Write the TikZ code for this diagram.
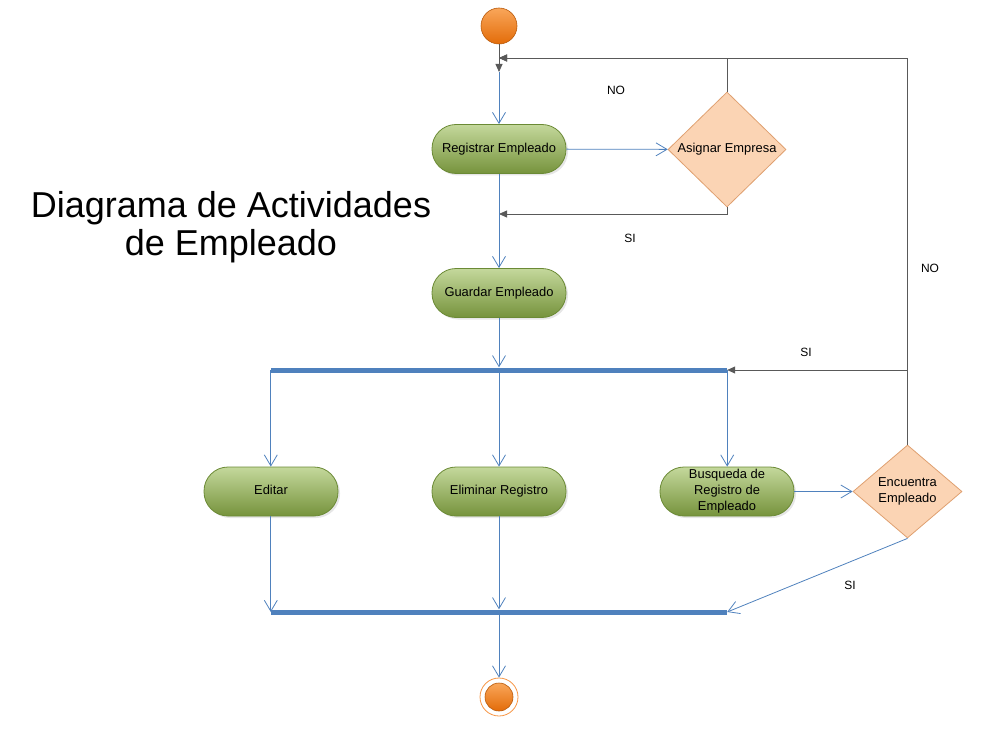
\documentclass[tikz,border=0pt]{standalone}
\usepackage{fontspec}
\setmainfont{Liberation Sans}
\usetikzlibrary{arrows.meta,shapes.geometric,shadows}
\definecolor{flowblue}{HTML}{4F81BD}
\definecolor{barblue}{HTML}{4F81BD}
\definecolor{darkln}{HTML}{595959}
\definecolor{gtop}{HTML}{C4D89C}
\definecolor{gbot}{HTML}{76933C}
\definecolor{gborder}{HTML}{6B8A35}
\definecolor{dfill}{HTML}{FBD4B4}
\definecolor{dborder}{HTML}{DFA070}
\definecolor{otop}{HTML}{F9A65A}
\definecolor{obot}{HTML}{E36C09}
\definecolor{oborder}{HTML}{B8590A}
\definecolor{oring}{HTML}{F79646}
\begin{document}
\begin{tikzpicture}[x=1pt,y=-1pt,
  action/.style={rectangle, rounded corners=24pt, minimum width=134pt, minimum height=49pt,
    top color=gtop, bottom color=gbot, draw=gborder, line width=0.8pt,
    font=\fontsize{12.9}{16}\selectfont, align=center, inner sep=0pt,
    drop shadow={opacity=0.2, shadow xshift=2pt, shadow yshift=-2pt}},
  oneline/.style={text height=9.5pt, text depth=3pt},
  decision/.style={diamond, fill=dfill, draw=dborder, line width=0.8pt, inner sep=0pt,
    align=center, font=\fontsize{12.9}{16}\selectfont},
  syncbar/.style={rectangle, fill=barblue, inner sep=0pt, minimum width=456pt, minimum height=5pt},
  flow/.style={draw=flowblue, line width=0.8pt, -{Straight Barb[length=11pt,width=13pt]}},
  back/.style={draw=darkln, line width=0.8pt, -{Triangle[length=8pt,width=7pt]}},
  lbl/.style={font=\fontsize{12}{14}\selectfont, inner sep=0pt},
  orangedot/.style={circle, inner sep=0pt, top color=otop, bottom color=obot, draw=oborder, line width=0.6pt}
]
\useasboundingbox (0,0) rectangle (1008,735);

% title
\node[font=\fontsize{36}{38}\selectfont, align=center, inner sep=0pt] (title) at (231,227)
  {Diagrama de Actividades\\de Empleado};

% nodes
\node[orangedot, minimum size=36pt] (start) at (499,26) {};
\node[action, oneline] (reg) at (499,149) {Registrar Empleado};
\node[decision, minimum width=118pt, minimum height=115pt, oneline] (asig) at (727,149.5) {\makebox[0pt]{Asignar Empresa}};
\node[action, oneline] (guard) at (499,293) {Guardar Empleado};
\node[syncbar] (fork) at (499,370) {};
\node[action, oneline] (edit) at (271,491.5) {Editar};
\node[action, oneline] (elim) at (499,491.5) {Eliminar Registro};
\node[action] (busq) at (727,491.5) {Busqueda de\\Registro de\\Empleado};
\node[decision, minimum width=109pt, minimum height=93pt] (enc) at (907.5,491.5) {Encuentra\\Empleado};
\node[syncbar] (join) at (499,612) {};
\node[circle, inner sep=0pt, minimum size=38pt, draw=oring, fill=white, line width=0.8pt] (endo) at (499,697) {};
\node[orangedot, minimum size=28pt] (endi) at (499,697) {};

% coordinates
\coordinate (j1) at (499,72);
\coordinate (jno) at (499,58);
\coordinate (jsi) at (499,214);

% connectors
\draw[back] (start) -- (j1);
\draw[flow] (j1) -- (reg);
\draw[flow] (reg) -- (asig);
\draw[back] (asig.north) |- (jno);
\draw[back] (enc.north) |- (jno);
\draw[back] (asig.south) |- (jsi);
\draw[flow] (reg) -- (guard);
\draw[flow] (guard) -- (fork);
\draw[back] (enc.north |- fork.east) -- (fork.east);
\draw[flow] (fork.west) -- (fork.west |- edit.north);
\draw[flow] (fork) -- (elim);
\draw[flow] (fork.east) -- (fork.east |- busq.north);
\draw[flow] (busq) -- (enc);
\draw[flow] (join.west |- edit.south) -- (join.west);
\draw[flow] (elim) -- (join);
\draw[flow] (enc.south) -- (join.east);
\draw[flow] (join) -- (endo);

% labels
\node[lbl] (lno1) at (616,90) {NO};
\node[lbl] (lsi1) at (630,238) {SI};
\node[lbl] (lno2) at (930,268) {NO};
\node[lbl] (lsi2) at (806,352) {SI};
\node[lbl] (lsi3) at (850,585) {SI};
\end{tikzpicture}
\end{document}
